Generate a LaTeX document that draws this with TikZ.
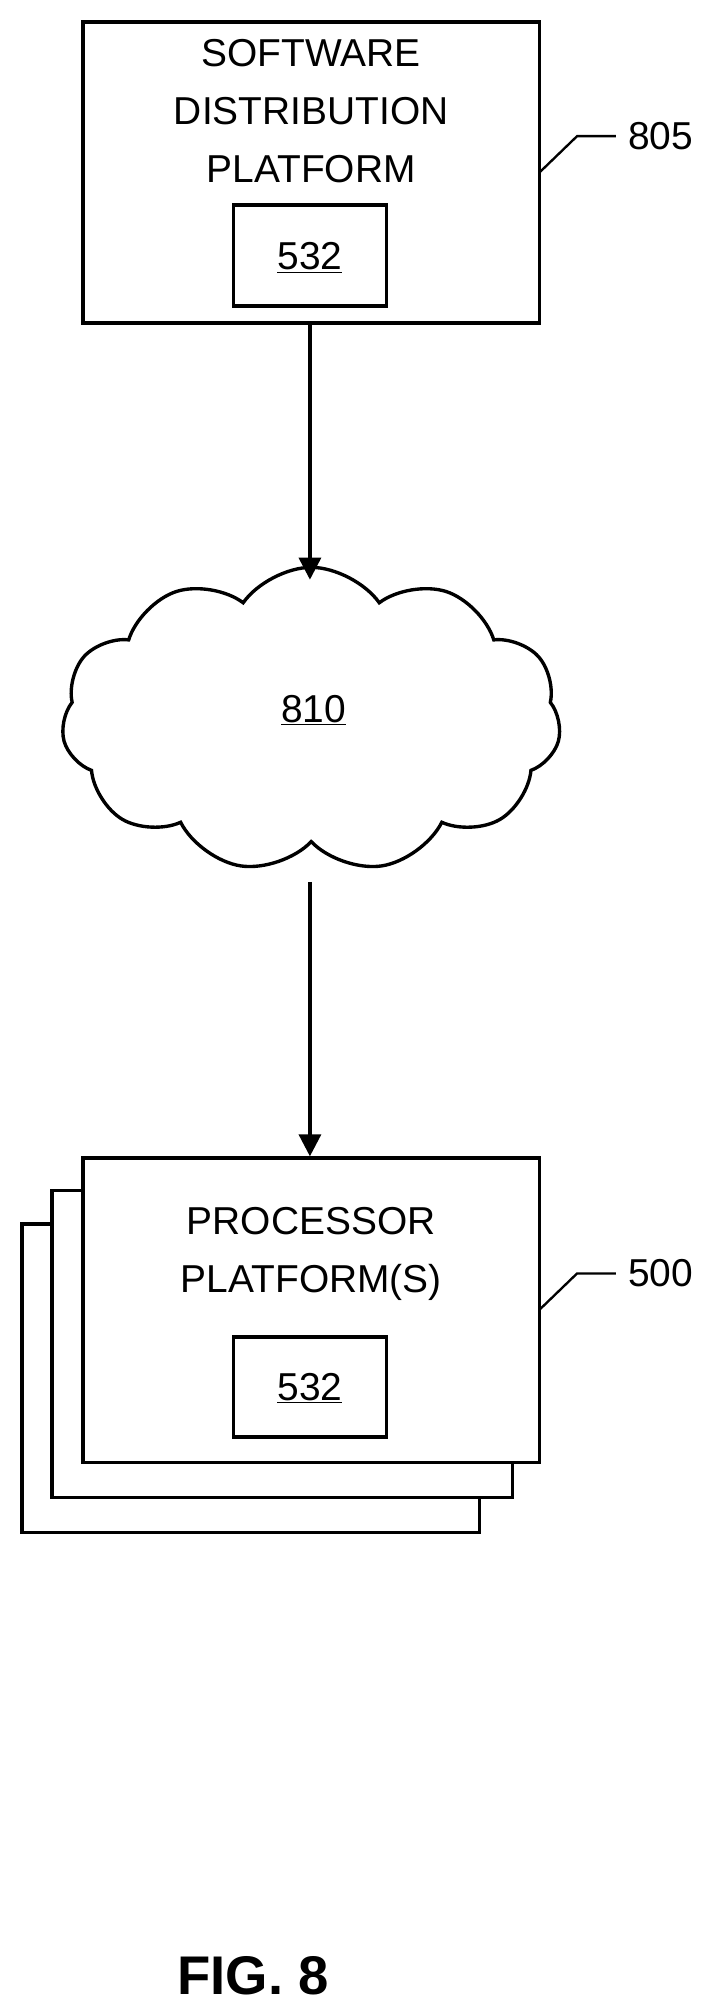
\documentclass[tikz,border=0pt]{standalone}
\usepackage{fontspec}
\setmainfont{Liberation Sans}
\usetikzlibrary{shapes.symbols,arrows.meta}
\begin{document}
\begin{tikzpicture}[x=1pt,y=-1pt,line width=2.6pt,
  box/.style={draw,fill=white,inner sep=0},
  txt/.style={font=\fontsize{30}{44}\selectfont,align=center,inner sep=0},
  arr/.style={-{Triangle[length=17pt,width=17pt]}}]
\useasboundingbox (0,0) rectangle (548,1550);
% top box
\node[box,minimum width=352pt,minimum height=232pt] (sdp) at (240,133) {};
\node[txt,anchor=base] (t1) at (240,51) {SOFTWARE};
\node[txt,anchor=base] (t2) at (240,96) {DISTRIBUTION};
\node[txt,anchor=base] (t3) at (240,141) {PLATFORM};
\node[box,minimum width=118pt,minimum height=78pt] (i1) at (239,197) {};
\node[txt,anchor=base] (n1) at (239,208) {\underline{532}};
% label 805
\node[txt,anchor=west] (l805) at (483,105) {805};
\coordinate (c1) at (445,105);
\draw[line width=1.8pt] (416,133) -- (c1) -- (475,105);
% cloud
\node[cloud,draw,cloud puffs=11,cloud puff arc=110,aspect=1.7,minimum width=385pt,minimum height=235pt,inner sep=0] (net) at (240,555) {};
\node[txt,anchor=base] (n810) at (242,557) {\underline{810}};
% stacked boxes
\node[box,minimum width=353pt,minimum height=238pt] (b3) at (193.5,1063) {};
\node[box,minimum width=355pt,minimum height=237pt] (b2) at (217.5,1036.5) {};
\node[box,minimum width=352pt,minimum height=235pt] (pp) at (240,1010.5) {};
\node[txt,anchor=base] (p1) at (240,952) {PROCESSOR};
\node[txt,anchor=base] (p2) at (240,997) {PLATFORM(S)};
\node[box,minimum width=118pt,minimum height=77pt] (i2) at (239,1069.5) {};
\node[txt,anchor=base] (n2) at (239,1080) {\underline{532}};
\node[txt,anchor=west] (l500) at (483,982) {500};
\coordinate (c2) at (445,982);
\draw[line width=1.8pt] (416,1010) -- (c2) -- (475,982);
% arrows
\draw[arr] (sdp.south -| 239,0) -- (239,447);
\draw[arr] (239,680) -- (pp.north -| 239,0);
\node[font=\bfseries\fontsize{42}{50}\selectfont,anchor=base,inner sep=0] (fig) at (195,1538) {FIG. 8};
\end{tikzpicture}
\end{document}
